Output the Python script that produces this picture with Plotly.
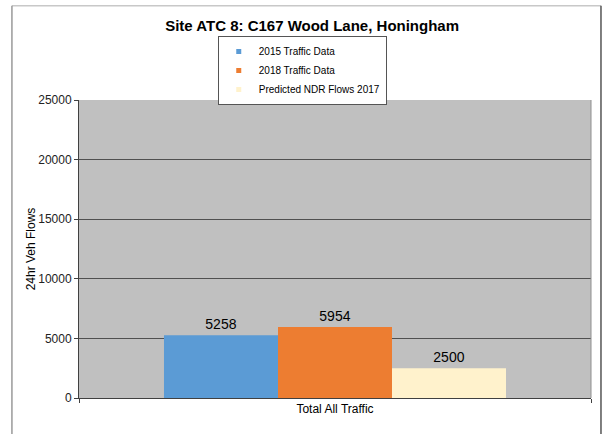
import plotly.graph_objects as go

categories = ["Total All Traffic"]
series_names = ["2015 Traffic Data", "2018 Traffic Data", "Predicted NDR Flows 2017"]
series_values = [[5258], [5954], [2500]]
series_colors = ["#5B9BD5", "#ED7D31", "#FFF2CC"]
y_ticks = [0, 5000, 10000, 15000, 20000, 25000]

fig = go.Figure()
for name, vals, col in zip(series_names, series_values, series_colors):
    fig.add_trace(go.Bar(
        x=categories, y=vals, name=name, showlegend=False,
        marker=dict(color=col, line=dict(width=0)),
        text=[str(v) for v in vals], textposition="outside",
        textfont=dict(size=14, color="#000000", family="Liberation Sans, Arial"),
        cliponaxis=False,
    ))
# legend entries with small square swatches
for name, col in zip(series_names, series_colors):
    fig.add_trace(go.Scatter(
        x=[None], y=[None], mode="markers", name=name,
        marker=dict(symbol="square", size=5, color=col),
    ))

fig.update_layout(
    width=606, height=434,
    margin=dict(l=79, r=15, t=100, b=36),
    paper_bgcolor="white", plot_bgcolor="#C0C0C0",
    font=dict(family="Liberation Sans, Arial", color="#000000", size=12),
    barmode="group", bargap=0.332, bargroupgap=0,
    title=dict(text="<b>Site ATC 8: C167 Wood Lane, Honingham</b>",
               x=0.515, xanchor="center", y=0.94, yanchor="middle",
               font=dict(size=15, color="#000000")),
    legend=dict(x=0.271, xanchor="left", y=1.215, yanchor="top",
                bgcolor="white", bordercolor="#555555", borderwidth=1,
                font=dict(size=10), tracegroupgap=0, itemwidth=30),
    showlegend=True,
)
fig.update_yaxes(range=[0, 25000], tickvals=y_ticks,
                 ticktext=[str(t) for t in y_ticks], showgrid=True,
                 gridcolor="#505050", gridwidth=1, showline=True,
                 linecolor="#404040", linewidth=1, ticks="outside", ticklen=4,
                 tickcolor="#404040", tickfont=dict(size=12, color="#222222"),
                 zeroline=False,
                 title=dict(text="24hr Veh Flows", font=dict(size=12), standoff=0))
fig.update_xaxes(range=[-0.5, 0.5], showline=True, linecolor="#404040",
                 linewidth=1, ticks="outside", tickson="boundaries", ticklen=4,
                 tickcolor="#404040", tickfont=dict(size=12))

# plot-area right border and outer frame
fig.add_shape(type="line", xref="paper", yref="paper", x0=1, x1=1, y0=0, y1=1,
              line=dict(color="#909090", width=1))
fig.add_shape(type="line", xref="paper", yref="paper", x0=-0.131, x1=1.0195,
              y0=1.316, y1=1.316, line=dict(color="#C8C8C8", width=1.5))
fig.add_shape(type="line", xref="paper", yref="paper", x0=-0.131, x1=-0.131,
              y0=-0.13, y1=1.316, line=dict(color="#999999", width=1.5))
fig.add_shape(type="line", xref="paper", yref="paper", x0=1.0195, x1=1.0195,
              y0=-0.13, y1=1.316, line=dict(color="#555555", width=1.5))

fig.write_html("out.html")
